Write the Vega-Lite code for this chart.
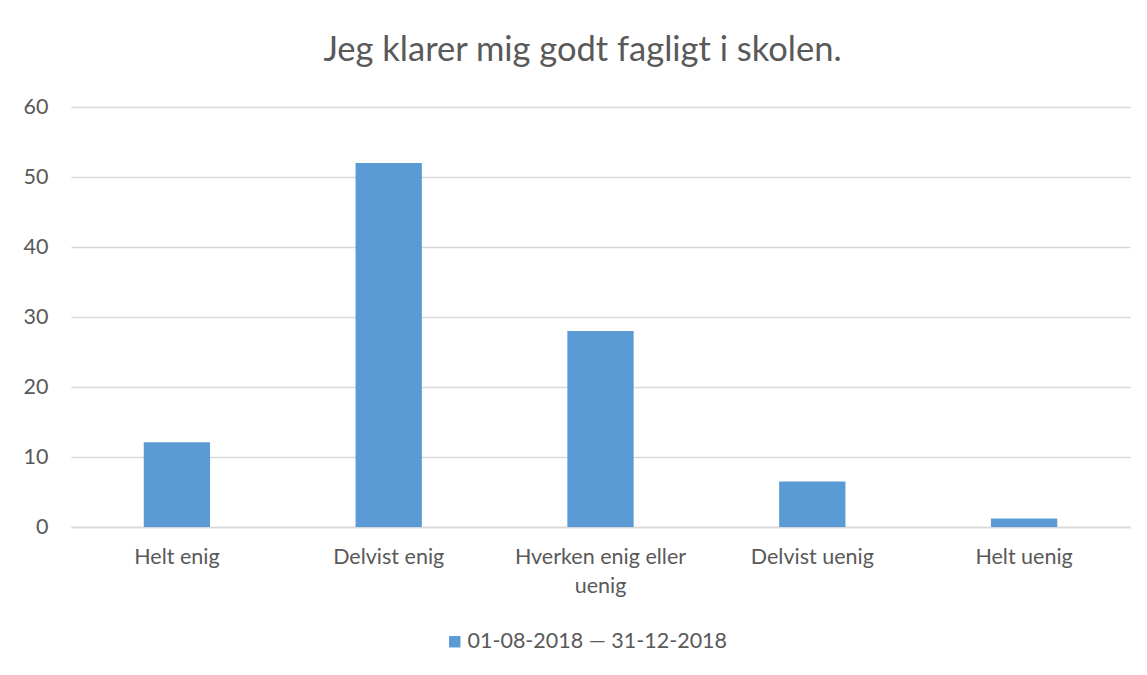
{
  "$schema": "https://vega.github.io/schema/vega-lite/v6.json",
  "autosize": {"type": "none"},
  "padding": {"left": 71, "top": 107, "right": 17, "bottom": 148},
  "width": 1059,
  "height": 420,
  "background": "white",
  "title": {
    "text": "Jeg klarer mig godt fagligt i skolen.",
    "font": "Lato",
    "fontSize": 34.5,
    "fontWeight": "normal",
    "color": "#595959",
    "offset": 28,
    "dx": -18
  },
  "data": {
    "values": [
      {"svar": "Helt enig", "andel": 12.1, "periode": "01-08-2018 — 31-12-2018"},
      {"svar": "Delvist enig", "andel": 52.0, "periode": "01-08-2018 — 31-12-2018"},
      {"svar": "Hverken enig eller uenig", "andel": 28.0, "periode": "01-08-2018 — 31-12-2018"},
      {"svar": "Delvist uenig", "andel": 6.5, "periode": "01-08-2018 — 31-12-2018"},
      {"svar": "Helt uenig", "andel": 1.2, "periode": "01-08-2018 — 31-12-2018"}
    ]
  },
  "mark": {"type": "bar", "color": "#5B9BD5"},
  "encoding": {
    "x": {
      "field": "svar",
      "type": "nominal",
      "sort": null,
      "scale": {"paddingInner": 0.687, "paddingOuter": 0.3435},
      "axis": {
        "title": null,
        "labelAngle": 0,
        "ticks": false,
        "domainColor": "#d9d9d9",
        "domainWidth": 1.5,
        "labelFont": "Lato",
        "labelFontSize": 21.5,
        "labelColor": "#595959",
        "labelPadding": 19,
        "labelLineHeight": 29,
        "labelLimit": 0,
        "labelExpr": "datum.label == 'Hverken enig eller uenig' ? ['Hverken enig eller', 'uenig'] : datum.label"
      }
    },
    "y": {
      "field": "andel",
      "type": "quantitative",
      "scale": {"domain": [0, 60]},
      "axis": {
        "title": null,
        "values": [0, 10, 20, 30, 40, 50, 60],
        "domain": false,
        "ticks": false,
        "gridColor": "#d9d9d9",
        "gridWidth": 1.5,
        "labelFont": "Lato",
        "labelFontSize": 21.5,
        "labelColor": "#595959",
        "labelPadding": 23
      }
    },
    "color": {
      "field": "periode",
      "type": "nominal",
      "scale": {"range": ["#5B9BD5"]},
      "legend": {
        "title": null,
        "orient": "none",
        "legendX": 373,
        "legendY": 524,
        "symbolType": "square",
        "symbolSize": 130,
        "symbolStrokeWidth": 0,
        "symbolOpacity": 1,
        "labelFont": "Lato",
        "labelFontSize": 21.5,
        "labelColor": "#595959",
        "labelOffset": 2,
        "labelLimit": 0
      }
    }
  },
  "config": {"view": {"stroke": null}}
}
